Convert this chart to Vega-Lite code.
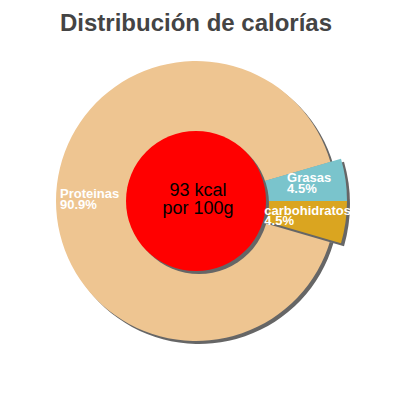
{
  "$schema": "https://vega.github.io/schema/vega-lite/v6.json",
  "width": 392,
  "height": 402,
  "autosize": "none",
  "padding": 0,
  "background": "white",
  "config": {"view": {"stroke": null}},
  "title": {"text": "Distribución de calorías", "fontSize": 24, "fontWeight": "bold", "color": "#444444", "font": "Liberation Sans", "frame": "group", "anchor": "middle", "baseline": "alphabetic", "offset": -55},
  "datasets": {
    "cal": [
      {"name": "Grasas", "pct": 0.045},
      {"name": "carbohidratos", "pct": 0.045},
      {"name": "Proteinas", "pct": 0.909}
    ]
  },
  "layer": [
    {
      "data": {"name": "cal"},
      "encoding": {
        "theta": {"field": "pct", "type": "quantitative", "stack": true, "scale": {"domain": [0, 0.999], "range": [1.28778, 7.57096]}},
        "order": {"field": "pct", "type": "quantitative"}
      },
      "layer": [
        {"mark": {"type": "arc", "radius": 140, "color": "#666666", "xOffset": 3, "yOffset": 3}},
        {"mark": {"type": "arc", "radius": 140},
         "encoding": {"color": {"field": "name", "type": "nominal", "legend": null, "scale": {"domain": ["Proteinas", "Grasas", "carbohidratos"], "range": ["#EEC591", "#7AC4CC", "#DAA520"]}}}},
        {"mark": {"type": "arc", "radius": 151, "color": "#666666", "xOffset": 3, "yOffset": 3},
         "encoding": {"opacity": {"condition": {"test": "datum.name === 'Proteinas'", "value": 0}, "value": 1}}},
        {"mark": {"type": "arc", "radius": 151},
         "encoding": {
           "color": {"field": "name", "type": "nominal", "legend": null, "scale": {"domain": ["Proteinas", "Grasas", "carbohidratos"], "range": ["#EEC591", "#7AC4CC", "#DAA520"]}},
           "opacity": {"condition": {"test": "datum.name === 'Proteinas'", "value": 0}, "value": 1}}}
      ]
    },
    {
      "data": {"values": [{"label": "93 kcal\npor 100g"}]},
      "layer": [
        {"mark": {"type": "arc", "radius": 70, "theta": 0, "theta2": 6.2832, "color": "#666666", "xOffset": 3, "yOffset": 3}, "encoding": {}},
        {"mark": {"type": "arc", "radius": 70, "theta": 0, "theta2": 6.2832, "color": "#FF0000"}, "encoding": {}},
        {"mark": {"type": "text", "fontSize": 18, "lineBreak": "\n", "lineHeight": 18, "font": "Liberation Sans", "color": "black", "align": "center", "baseline": "alphabetic", "dy": -5, "dx": 2},
         "encoding": {"text": {"field": "label", "type": "nominal"}}}
      ]
    },
    {
      "data": {"name": "cal"},
      "encoding": {
        "theta": {"field": "pct", "type": "quantitative", "stack": true, "scale": {"domain": [0, 0.999], "range": [1.28778, 7.57096]}},
        "order": {"field": "pct", "type": "quantitative"}
      },
      "layer": [
        {"mark": {"type": "text", "radius": 136, "align": "left", "baseline": "alphabetic", "dy": -3, "lineHeight": 11, "fontSize": 13, "fontWeight": "bold", "font": "Liberation Sans", "color": "white",
                  "text": {"expr": "datum.name === 'Proteinas' ? [datum.name, format(datum.pct, '.1%')] : ''"}}},
        {"mark": {"type": "text", "radius": 92, "align": "left", "baseline": "alphabetic", "dy": -6, "lineHeight": 11, "fontSize": 13, "fontWeight": "bold", "font": "Liberation Sans", "color": "white",
                  "text": {"expr": "datum.name === 'Grasas' ? [datum.name, format(datum.pct, '.1%')] : ''"}}},
        {"mark": {"type": "text", "radius": 69, "align": "left", "baseline": "alphabetic", "dy": 4, "lineHeight": 10, "fontSize": 13, "fontWeight": "bold", "font": "Liberation Sans", "color": "white",
                  "text": {"expr": "datum.name === 'carbohidratos' ? [datum.name, format(datum.pct, '.1%')] : ''"}}}
      ]
    }
  ]
}
